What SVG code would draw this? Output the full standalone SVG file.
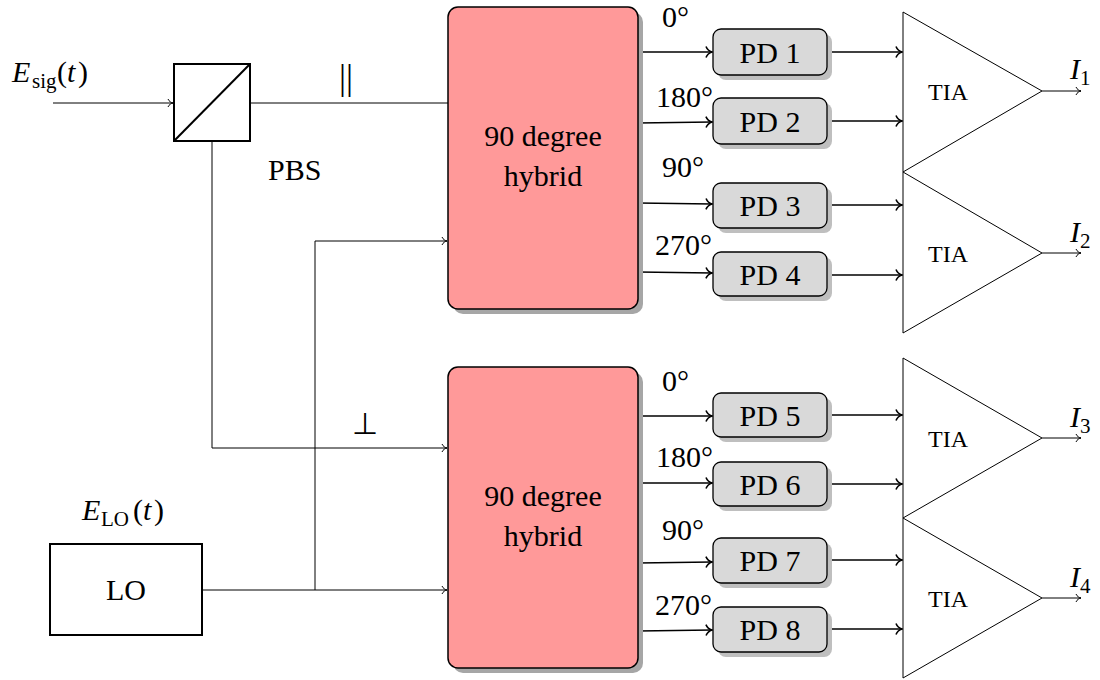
<svg xmlns="http://www.w3.org/2000/svg" width="1100" height="680" viewBox="0 0 1100 680">
<style>
  text { font-family: "Liberation Serif", "Times New Roman", serif; fill: #000; }
  .lbl { font-size: 30px; }
  .it { font-style: italic; }
  .tia { font-size: 24px; }
  .thin { fill: none; stroke: #000; stroke-width: 1; }
  .thick { fill: none; stroke: #000; stroke-width: 1.7; }
  .hyb { fill: #ff9999; stroke: #000; stroke-width: 1.5; }
  .hybsh { fill: #a6a6a6; }
  .pd { fill: #d9d9d9; stroke: #000; stroke-width: 1.3; }
  .pdsh { fill: #bfbfbf; }
  .box { fill: #fff; stroke: #000; stroke-width: 2; }
  .tri { fill: #fff; stroke: #000; stroke-width: 1; }
</style>
<defs>
  <marker id="arrThin" markerUnits="userSpaceOnUse" markerWidth="12" markerHeight="12" refX="10" refY="6" orient="auto" overflow="visible">
    <path d="M5,2 C6,4.5 8.5,5.7 10,6 C8.5,6.3 6,7.5 5,10" fill="none" stroke="#000" stroke-width="1"/>
  </marker>
  <marker id="arrThick" markerUnits="userSpaceOnUse" markerWidth="14" markerHeight="14" refX="11" refY="7" orient="auto" overflow="visible">
    <path d="M5,1.5 C6.2,4.5 9,6.4 11,7 C9,7.6 6.2,9.5 5,12.5" fill="none" stroke="#000" stroke-width="1.6"/>
  </marker>
</defs>

<g id="connectors">
  <path class="thin" d="M53,103 H173" marker-end="url(#arrThin)"/>
  <path class="thin" d="M250,103 H448"/>
  <path class="thin" d="M212,141 V448 H447" marker-end="url(#arrThin)"/>
  <path class="thin" d="M202,590 H447" marker-end="url(#arrThin)"/>
  <path class="thin" d="M315,590 V241 H447" marker-end="url(#arrThin)"/>
  <!-- hybrid 1 to PDs -->
  <path class="thick" d="M638,52 H712" marker-end="url(#arrThick)"/>
  <path class="thick" d="M638,123 L712,122" marker-end="url(#arrThick)"/>
  <path class="thick" d="M638,203 L712,204" marker-end="url(#arrThick)"/>
  <path class="thick" d="M638,272 L712,273" marker-end="url(#arrThick)"/>
  <!-- hybrid 2 to PDs -->
  <path class="thick" d="M638,416 H712" marker-end="url(#arrThick)"/>
  <path class="thick" d="M638,483 L712,483" marker-end="url(#arrThick)"/>
  <path class="thick" d="M638,563 L712,562" marker-end="url(#arrThick)"/>
  <path class="thick" d="M638,631 L712,630" marker-end="url(#arrThick)"/>
  <!-- PDs to TIAs -->
  <path class="thick" d="M827,52 H902" marker-end="url(#arrThick)"/>
  <path class="thick" d="M827,121 H902" marker-end="url(#arrThick)"/>
  <path class="thick" d="M827,205 H902" marker-end="url(#arrThick)"/>
  <path class="thick" d="M827,275 H902" marker-end="url(#arrThick)"/>
  <path class="thick" d="M827,415 H902" marker-end="url(#arrThick)"/>
  <path class="thick" d="M827,484 H902" marker-end="url(#arrThick)"/>
  <path class="thick" d="M827,560 H902" marker-end="url(#arrThick)"/>
  <path class="thick" d="M827,629 H902" marker-end="url(#arrThick)"/>
  <!-- outputs -->
  <path class="thin" d="M1042,91 H1081" marker-end="url(#arrThin)"/>
  <path class="thin" d="M1042,253 H1081" marker-end="url(#arrThin)"/>
  <path class="thin" d="M1042,438 H1081" marker-end="url(#arrThin)"/>
  <path class="thin" d="M1042,598 H1081" marker-end="url(#arrThin)"/>
</g>

<g id="labels">
  <text class="lbl" y="82"><tspan class="it" x="12">E</tspan><tspan x="32" y="88" font-size="21">sig</tspan><tspan x="57" y="82">(</tspan><tspan class="it" x="67">t</tspan><tspan x="78">)</tspan></text>
  <text class="lbl" x="268" y="180">PBS</text>
  <text x="346" y="89" font-size="35" text-anchor="middle">||</text>
  <text class="lbl" x="365" y="434" text-anchor="middle">⊥</text>
  <text class="lbl" y="520"><tspan class="it" x="82">E</tspan><tspan x="101" y="526" font-size="21">LO</tspan><tspan x="133" y="520">(</tspan><tspan class="it" x="143">t</tspan><tspan x="154">)</tspan></text>
  <text class="lbl" x="662" y="27">0°</text>
  <text class="lbl" x="656" y="107">180°</text>
  <text class="lbl" x="662" y="177">90°</text>
  <text class="lbl" x="655" y="255">270°</text>
  <text class="lbl" x="662" y="391">0°</text>
  <text class="lbl" x="656" y="467">180°</text>
  <text class="lbl" x="662" y="540">90°</text>
  <text class="lbl" x="655" y="615">270°</text>
  <text class="lbl"><tspan class="it" x="1070" y="79">I</tspan><tspan x="1080" y="85" font-size="21">1</tspan></text>
  <text class="lbl"><tspan class="it" x="1070" y="242">I</tspan><tspan x="1080" y="248" font-size="21">2</tspan></text>
  <text class="lbl"><tspan class="it" x="1070" y="427">I</tspan><tspan x="1080" y="433" font-size="21">3</tspan></text>
  <text class="lbl"><tspan class="it" x="1070" y="587">I</tspan><tspan x="1080" y="593" font-size="21">4</tspan></text>
</g>

<g id="pbs">
  <rect class="box" x="174" y="64" width="76" height="77"/>
  <line x1="174" y1="141" x2="250" y2="64" stroke="#000" stroke-width="2"/>
</g>

<g id="lo">
  <rect class="box" x="50" y="544" width="152" height="91"/>
  <text class="lbl" x="126" y="600" text-anchor="middle">LO</text>
</g>

<g id="hybrid1">
  <rect class="hybsh" x="453" y="12" width="190" height="302" rx="10"/>
  <rect class="hyb" x="448" y="7" width="190" height="302" rx="10"/>
  <text class="lbl" x="543" y="146" text-anchor="middle">90 degree</text>
  <text class="lbl" x="543" y="186" text-anchor="middle">hybrid</text>
</g>

<g id="hybrid2">
  <rect class="hybsh" x="453" y="372" width="190" height="301" rx="10"/>
  <rect class="hyb" x="448" y="367" width="190" height="301" rx="10"/>
  <text class="lbl" x="543" y="506" text-anchor="middle">90 degree</text>
  <text class="lbl" x="543" y="546" text-anchor="middle">hybrid</text>
</g>

<g id="pd1"><rect class="pdsh" x="718" y="34" width="114" height="46" rx="8"/><rect class="pd" x="713" y="29" width="114" height="46" rx="8"/><text class="lbl" x="770" y="63" text-anchor="middle">PD 1</text></g>
<g id="pd2"><rect class="pdsh" x="718" y="103" width="114" height="46" rx="8"/><rect class="pd" x="713" y="98" width="114" height="46" rx="8"/><text class="lbl" x="770" y="132" text-anchor="middle">PD 2</text></g>
<g id="pd3"><rect class="pdsh" x="718" y="188" width="114" height="45" rx="8"/><rect class="pd" x="713" y="183" width="114" height="45" rx="8"/><text class="lbl" x="770" y="216" text-anchor="middle">PD 3</text></g>
<g id="pd4"><rect class="pdsh" x="718" y="257" width="114" height="44" rx="8"/><rect class="pd" x="713" y="252" width="114" height="44" rx="8"/><text class="lbl" x="770" y="285" text-anchor="middle">PD 4</text></g>
<g id="pd5"><rect class="pdsh" x="718" y="398" width="114" height="44" rx="8"/><rect class="pd" x="713" y="393" width="114" height="44" rx="8"/><text class="lbl" x="770" y="426" text-anchor="middle">PD 5</text></g>
<g id="pd6"><rect class="pdsh" x="718" y="467" width="114" height="44" rx="8"/><rect class="pd" x="713" y="462" width="114" height="44" rx="8"/><text class="lbl" x="770" y="495" text-anchor="middle">PD 6</text></g>
<g id="pd7"><rect class="pdsh" x="718" y="543" width="114" height="45" rx="8"/><rect class="pd" x="713" y="538" width="114" height="45" rx="8"/><text class="lbl" x="770" y="571" text-anchor="middle">PD 7</text></g>
<g id="pd8"><rect class="pdsh" x="718" y="612" width="114" height="45" rx="8"/><rect class="pd" x="713" y="607" width="114" height="45" rx="8"/><text class="lbl" x="770" y="640" text-anchor="middle">PD 8</text></g>

<g id="tia1"><polygon class="tri" points="903,12 1042,91 903,172"/><text class="tia" x="928" y="100">TIA</text></g>
<g id="tia2"><polygon class="tri" points="903,172 1042,253 903,333"/><text class="tia" x="928" y="262">TIA</text></g>
<g id="tia3"><polygon class="tri" points="903,358 1042,438 903,518"/><text class="tia" x="928" y="447">TIA</text></g>
<g id="tia4"><polygon class="tri" points="903,518 1042,598 903,678"/><text class="tia" x="928" y="607">TIA</text></g>
</svg>
